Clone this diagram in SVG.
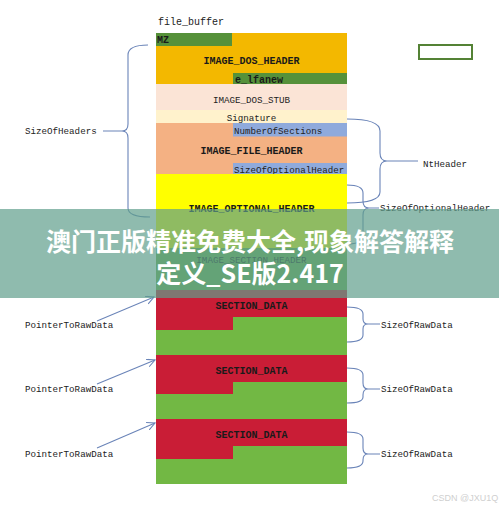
<svg xmlns="http://www.w3.org/2000/svg" width="499" height="509" viewBox="0 0 499 509">
<style>
.t{font-family:"Liberation Mono","DejaVu Sans Mono",monospace;font-size:9.2px;fill:#222}
.b{font-family:"Liberation Mono","DejaVu Sans Mono",monospace;font-size:10px;font-weight:bold;fill:#1a1a1a}
.c{text-anchor:middle}
.ln{fill:none;stroke:#6a84b8;stroke-width:1.1}
.gold{fill:#f3b800}.dg{fill:#56913a}.stub{fill:#fbe4d6}.sig{fill:#fff2cc}.fh{fill:#f4b183}.blue{fill:#8faadc}.yel{fill:#ffff00}.sg{fill:#70ad47}.red{fill:#c91d36}.grn{fill:#72b844}
.ban{font-family:"Noto Sans CJK SC","Noto Sans",sans-serif;font-size:25px;font-weight:bold;fill:#fff;text-anchor:middle}
</style>
<defs>
<marker id="ar" markerWidth="9" markerHeight="9" refX="8" refY="4" orient="auto" markerUnits="userSpaceOnUse">
<path d="M0,0 L8,4 L0,8" fill="none" stroke="#6a84b8" stroke-width="1.1"/>
</marker>
</defs>
<rect width="499" height="509" fill="#fff"/>
<text class="t" x="158" y="25" style="font-size:10px">file_buffer</text>
<g id="dos_header">
<rect class="gold" x="156" y="33" width="191" height="51"/>
<rect class="dg" x="156" y="33" width="76" height="13"/>
<rect class="dg" x="233" y="73" width="114" height="11"/>
<text class="b" x="157" y="43">MZ</text>
<text class="b c" x="251.5" y="64">IMAGE_DOS_HEADER</text>
<text class="b" x="235" y="83">e_lfanew</text>
</g>
<g id="dos_stub">
<rect class="stub" x="156" y="84" width="191" height="26"/>
<text class="t c" x="251.5" y="103">IMAGE_DOS_STUB</text>
</g>
<g id="signature">
<rect class="sig" x="156" y="110" width="191" height="13"/>
<text class="t c" x="251.5" y="120.5">Signature</text>
</g>
<g id="file_header">
<rect class="fh" x="156" y="123" width="191" height="51"/>
<rect class="blue" x="233" y="123" width="114" height="13.5"/>
<rect class="blue" x="233" y="163" width="114" height="11"/>
<text class="t" x="234" y="133.5">NumberOfSections</text>
<text class="b c" x="251.5" y="154">IMAGE_FILE_HEADER</text>
<text class="t" x="234" y="172.5">SizeOfOptionalHeader</text>
</g>
<g id="optional_header">
<rect class="yel" x="156" y="174" width="191" height="74"/>
<text class="b c" x="251.5" y="211.5">IMAGE_OPTIONAL_HEADER</text>
</g>
<g id="section_header">
<rect class="sg" x="156" y="248" width="191" height="42"/>
<text class="t c" x="251.5" y="262.5">IMAGE_SECTION_HEADER</text>
</g>
<g id="section1">
<rect class="grn" x="156" y="290" width="191" height="65"/>
<path class="red" d="M156,290H347V317H233V330H156Z"/>
<text class="b c" x="251.5" y="309">SECTION_DATA</text>
</g>
<g id="section2">
<rect class="grn" x="156" y="355" width="191" height="64"/>
<path class="red" d="M156,355H347V382H233V394H156Z"/>
<text class="b c" x="251.5" y="373.5">SECTION_DATA</text>
</g>
<g id="section3">
<rect class="grn" x="156" y="419" width="191" height="65"/>
<path class="red" d="M156,419H347V446H233V459H156Z"/>
<text class="b c" x="251.5" y="437.5">SECTION_DATA</text>
</g>
<g id="marker_box">
<rect x="419" y="45" width="53" height="14" fill="none" stroke="#548235" stroke-width="2"/>
</g>
<g id="labels">
<text class="t" x="25" y="134">SizeOfHeaders</text>
<text class="t" x="423" y="167">NtHeader</text>
<text class="t" x="380" y="211">SizeOfOptionalHeader</text>
<text class="t" x="25" y="328">PointerToRawData</text>
<text class="t" x="25" y="392">PointerToRawData</text>
<text class="t" x="25" y="457">PointerToRawData</text>
<text class="t" x="381" y="327.5">SizeOfRawData</text>
<text class="t" x="381" y="392">SizeOfRawData</text>
<text class="t" x="381" y="457">SizeOfRawData</text>
</g>
<g id="connectors">
<path class="ln" d="M148,45Q128,45 128,55V124Q128,131 122,131H103M122,131Q128,131 128,138V208Q128,217 150,217"/>
<path class="ln" d="M347,119Q380,119 380,131V153Q380,161 387,161H418M387,161Q380,161 380,169V192Q380,203 347,203"/>
<path class="ln" d="M347,185Q363,185 363,193V201Q363,208 369,208H379M369,208Q363,208 363,215V236Q363,244 347,244"/>
<path class="ln" d="M347,307Q363,307 363,314V319Q363,324 368,324H380M368,324Q363,324 363,329V335Q363,342 347,342"/>
<path class="ln" d="M347,368Q363,368 363,375V383Q363,389 368,389H380M368,389Q363,389 363,395V397Q363,403 347,403"/>
<path class="ln" d="M347,432Q363,432 363,439V448Q363,454 368,454H380M368,454Q363,454 363,460V461Q363,468 347,468"/>
<line class="ln" x1="97" y1="321" x2="154" y2="297" marker-end="url(#ar)"/>
<line class="ln" x1="97" y1="384" x2="155" y2="360" marker-end="url(#ar)"/>
<line class="ln" x1="97" y1="448" x2="155" y2="423" marker-end="url(#ar)"/>
</g>
<g id="banner">
<rect x="0" y="209" width="499" height="89" fill="#5f9e8c" opacity="0.7"/>
<text class="ban" x="250" y="251">澳门正版精准免费大全,现象解答解释</text>
<text class="ban" x="250" y="283">定义_SE版2.417</text>
</g>
<text x="432" y="501" style="font-family:'Liberation Sans',sans-serif;font-size:9px;fill:#cfcfcf">CSDN @JXU1Q</text>
</svg>
